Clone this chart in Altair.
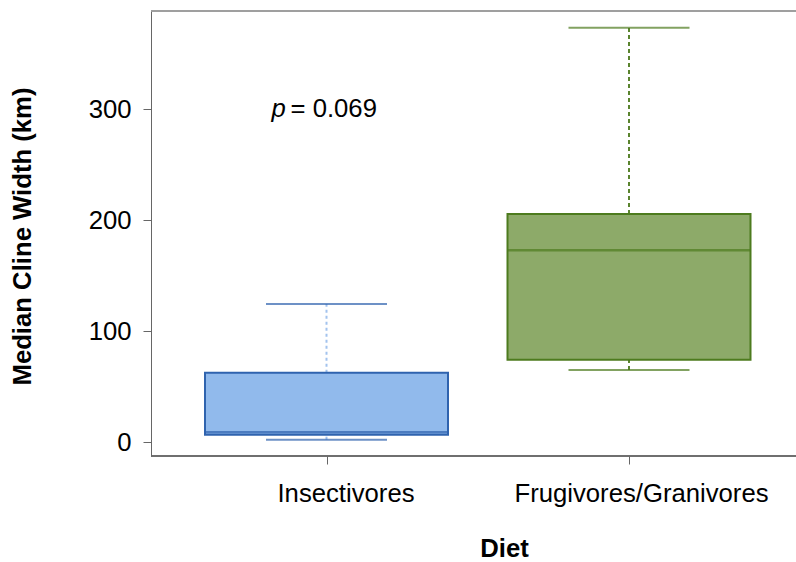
import altair as alt
import pandas as pd

categories = ["Insectivores", "Frugivores/Granivores"]
lower = [2.4, 65.1]
q1 = [6.9, 74.4]
median = [9.0, 172.8]
q3 = [62.7, 205.5]
upper = [124.5, 373.2]

fill_colors = ["#91BAEC", "#8DAA69"]
stroke_colors = ["#2F63AE", "#4D7B1E"]
whisker_colors = ["#A3C3EE", "#5A842E"]

p_label = "p"
p_value = "= 0.069"
p_y = 300

df = pd.DataFrame({"diet": categories, "lower": lower, "q1": q1, "median": median,
                   "q3": q3, "upper": upper})
ann = pd.DataFrame({"diet": [categories[0]], "y": [p_y], "p": [p_label], "v": [p_value]})

FONT = "Liberation Sans"
FS = 25.7

x = alt.X("diet:N", sort=categories,
          scale=alt.Scale(type="point", domain=categories, padding=0, range=[175.5, 478]),
          axis=alt.Axis(title="Diet", labelAngle=0, labelFont=FONT, labelFontSize=FS,
                        labelColor="#000", labelBaseline="alphabetic", labelPadding=37,
                        labelLimit=0, domain=False,
                        labelOffset={"condition": {"test": "datum.value == 'Insectivores'", "value": 19},
                                     "value": 12},
                        tickSize=8, tickColor="#666", tickWidth=1,
                        titleFont=FONT, titleFontSize=FS, titleFontWeight="bold",
                        titleColor="#000", titleX=353, titleY=100,
                        titleBaseline="alphabetic", titleAnchor="start", titleAlign="center"))
yscale = alt.Scale(domain=[-12.3, 388.2], nice=False, zero=False)
yaxis = alt.Axis(title="Median Cline Width (km)", values=[0, 100, 200, 300], grid=False,
                 labelFont=FONT, labelFontSize=FS, labelColor="#000", labelPadding=12,
                 tickSize=8, tickColor="#666", domainColor="#666",
                 titleFont=FONT, titleFontSize=FS, titleFontWeight="bold", titleColor="#000",
                 titleX=-121, titleY=225, titleBaseline="alphabetic", titleAngle=-90)


def cscale(rng):
    return alt.Scale(domain=categories, range=rng)


dash = alt.StrokeDash("diet:N", scale=alt.Scale(domain=categories, range=[[3, 3], [4, 3]]), legend=None)

base = alt.Chart(df)

whisk_up = base.mark_rule(strokeWidth=2).encode(
    x=x, y=alt.Y("q3:Q", scale=yscale, axis=yaxis), y2="upper:Q",
    color=alt.Color("diet:N", scale=cscale(whisker_colors), legend=None), strokeDash=dash)
whisk_low = base.mark_rule(strokeWidth=2).encode(
    x=x, y=alt.Y("lower:Q", scale=yscale), y2="q1:Q",
    color=alt.Color("diet:N", scale=cscale(whisker_colors), legend=None), strokeDash=dash)
whiskers = alt.layer(whisk_up, whisk_low)

cap_up = base.mark_tick(size=121, thickness=2).encode(
    x=x, y=alt.Y("upper:Q", scale=yscale),
    color=alt.Color("diet:N", scale=cscale(stroke_colors), legend=None))
cap_low = base.mark_tick(size=121, thickness=2).encode(
    x=x, y=alt.Y("lower:Q", scale=yscale),
    color=alt.Color("diet:N", scale=cscale(stroke_colors), legend=None))
meds = base.mark_tick(size=243, thickness=2.5).encode(
    x=x, y=alt.Y("median:Q", scale=yscale),
    color=alt.Color("diet:N", scale=cscale(stroke_colors), legend=None))

boxes = base.mark_bar(size=243, strokeWidth=2).encode(
    x=x, y=alt.Y("q1:Q", scale=yscale), y2="q3:Q",
    fill=alt.Fill("diet:N", scale=cscale(fill_colors), legend=None),
    stroke=alt.Stroke("diet:N", scale=cscale(stroke_colors), legend=None))

ptext = alt.Chart(ann).mark_text(font=FONT, fontSize=FS, fontStyle="italic", align="left",
                                 baseline="alphabetic", dx=-55, dy=8, color="#000").encode(
    x=x, y=alt.Y("y:Q", scale=yscale), text="p:N")
vtext = alt.Chart(ann).mark_text(font=FONT, fontSize=FS, align="left",
                                 baseline="alphabetic", dx=-36, dy=8, color="#000").encode(
    x=x, y=alt.Y("y:Q", scale=yscale), text="v:N")

top = alt.Chart(df).mark_rule(color="#999", strokeWidth=1.5).encode(
    x=alt.value(0), x2=alt.value(645), y=alt.value(0))
bottom = alt.Chart(df).mark_rule(color="#666", strokeWidth=1.5).encode(
    x=alt.value(0), x2=alt.value(645), y=alt.value(445))

chart = alt.layer(whiskers, boxes, cap_up, cap_low, meds, ptext, vtext, top, bottom).resolve_scale(
    color="independent", fill="independent", stroke="independent"
).properties(
    width=645, height=445,
    padding={"left": 151, "top": 11, "right": 0, "bottom": 106},
    autosize=alt.AutoSizeParams(type="none"),
    background="white",
).configure_view(stroke=None)

chart.save("out.html", embed_options={"renderer": "svg", "actions": False})
